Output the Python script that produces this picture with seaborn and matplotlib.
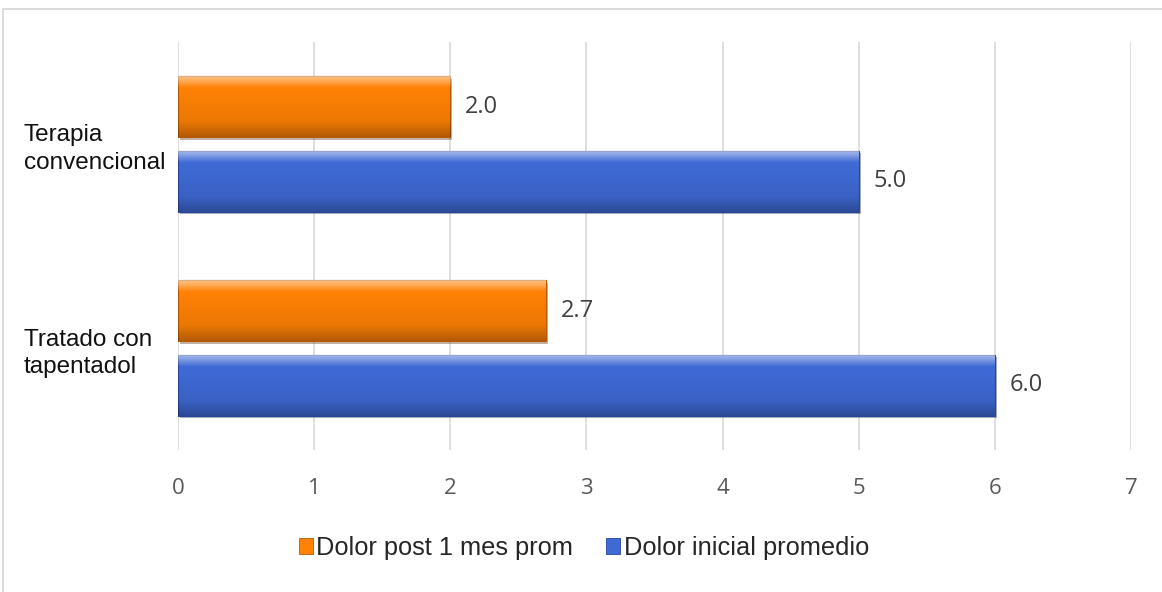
import numpy as np
import pandas as pd
import matplotlib
matplotlib.use("Agg")
import matplotlib.pyplot as plt
import matplotlib.patches as mpatches
import matplotlib.patheffects as pe
import seaborn as sns

categories = ["Terapia\nconvencional", "Tratado con\ntapentadol"]
series_names = ["Dolor post 1 mes prom", "Dolor inicial promedio"]
dolor_post = [2.0, 2.7]
dolor_inicial = [5.0, 6.0]
x_ticks = [0, 1, 2, 3, 4, 5, 6, 7]

df = pd.DataFrame({
    "grupo": categories * 2,
    "serie": [series_names[0]] * 2 + [series_names[1]] * 2,
    "valor": dolor_post + dolor_inicial,
})

colors = {series_names[0]: "#FF8205", series_names[1]: "#3F6AD6"}
dark = {series_names[0]: "#B95A00", series_names[1]: "#27459A"}

sns.set_theme(style="white")
plt.rcParams["font.family"] = ["Liberation Sans", "DejaVu Sans"]

fig = plt.figure(figsize=(11.62, 5.92), dpi=100)
W, H = 1162, 592
ax = fig.add_axes([178 / W, 1 - 450 / H, (1131 - 178) / W, (450 - 42) / H])

sns.barplot(data=df, y="grupo", x="valor", hue="serie", order=categories,
            hue_order=series_names, palette=colors, orient="h",
            width=0.728, gap=0.176, ax=ax, legend=False, linewidth=0,
            saturation=1)

ax.set_xlim(0, 7)
ax.set_ylim(1.5, -0.5)
ax.set_xticks(x_ticks)
ax.set_xticklabels([str(t) for t in x_ticks], family="Open Sans",
                   fontsize=16, color="#595959")
ax.tick_params(axis="x", length=0, pad=20)
ax.xaxis.grid(True, color="#d9d9d9", linewidth=1.2)
ax.set_axisbelow(True)
for s in ax.spines.values():
    s.set_visible(False)
ax.set_xlabel("")
ax.set_ylabel("")

ax.set_yticks(range(len(categories)))
ax.set_yticklabels(categories, fontsize=17.5, color="#111111", linespacing=1.3)
ax.tick_params(axis="y", length=0, pad=111)
for lab in ax.get_yticklabels():
    lab.set_horizontalalignment("left")

# bevelled shading for each bar: light band along the top, darker toward the bottom
t = np.linspace(0, 1, 64)
prof = np.interp(t, [0, 0.08, 0.2, 0.75, 1.0], [0.55, 0.35, 0.0, -0.08, -0.3])
rgba = np.zeros((64, 1, 4))
rgba[:, 0, :3] = np.where(prof > 0, 1.0, 0.0)[:, None]
rgba[:, 0, 3] = np.abs(prof)

for i, name in enumerate(series_names):
    cont = ax.containers[i]
    for bar, val in zip(cont.patches, [dolor_post, dolor_inicial][i]):
        bar.set_edgecolor(dark[name])
        bar.set_linewidth(0.8)
        bar.set_path_effects([pe.SimplePatchShadow(offset=(1.5, -2), alpha=0.35),
                              pe.Normal()])
        x0, y0 = bar.get_x(), bar.get_y()
        w, h = bar.get_width(), bar.get_height()
        im = ax.imshow(rgba, extent=(x0, x0 + w, y0 + h, y0), aspect="auto",
                       interpolation="bilinear", zorder=bar.get_zorder() + 0.1)
        im.set_clip_path(bar)
        ax.text(val + 0.11, y0 + h / 2, f"{val:.1f}", va="center", ha="left",
                family="Open Sans", fontsize=17, color="#404040")

ax.set_xlim(0, 7)
ax.set_ylim(1.5, -0.5)

handles = [mpatches.Patch(facecolor=colors[n], edgecolor=dark[n], linewidth=0.6)
           for n in series_names]
fig.legend(handles, series_names, loc="center", bbox_to_anchor=(584 / W, 1 - 548 / H),
           ncol=2, frameon=False, fontsize=18.3, handlelength=0.55, handleheight=0.55,
           handletextpad=0.15, columnspacing=1.3)

fig.patches.append(mpatches.Rectangle((3 / W, -0.05), 1.1, 1 - 9 / H + 0.05,
                                      transform=fig.transFigure, fill=False,
                                      edgecolor="#d4d4d4", linewidth=1.2))

fig.savefig("out.png", dpi=100)
